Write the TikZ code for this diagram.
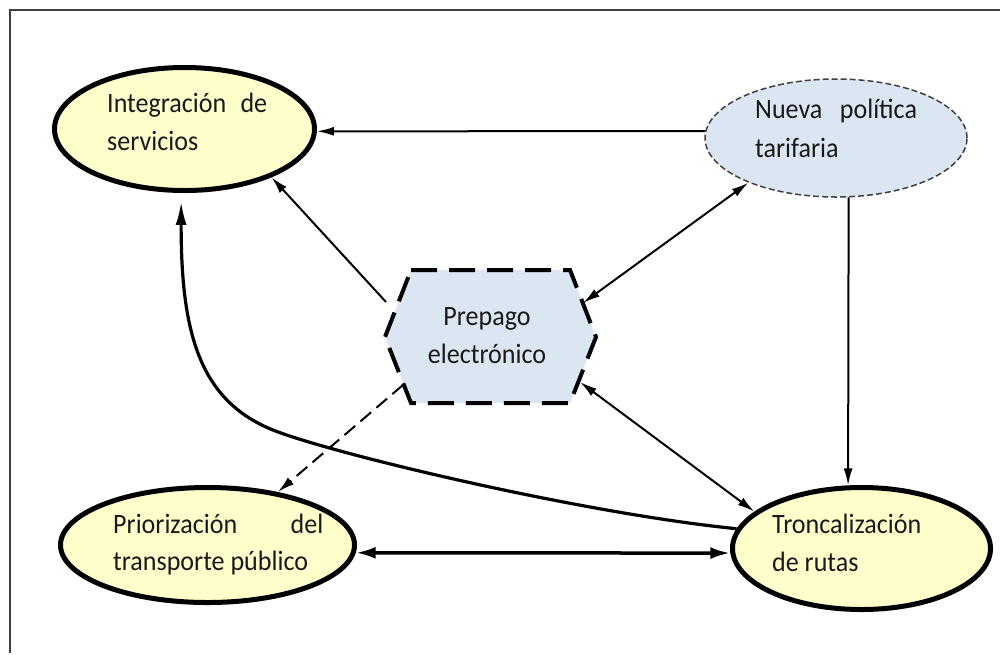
\documentclass[tikz,border=0pt]{standalone}
\usepackage{fontspec}
\setmainfont{Carlito}
\usetikzlibrary{shapes.geometric,arrows.meta}
\definecolor{ylw}{HTML}{FFFFCC}
\definecolor{blu}{HTML}{DCE6F2}
\newcommand{\sqz}[1]{\scalebox{0.93}[1]{#1}}
\begin{document}
\begin{tikzpicture}[x=1pt,y=-1pt,
  yell/.style={ellipse,draw=black,line width=5pt,fill=ylw,inner sep=0pt},
  bluell/.style={ellipse,draw=black!75,line width=1.5pt,dash pattern=on 6pt off 3pt,fill=blu,inner sep=0pt},
  txt/.style={font=\fontsize{28}{39}\selectfont,inner sep=0pt,anchor=base west,text=black!90},
  ctxt/.style={txt,anchor=base},
  thinarr/.style={line width=2pt,-{Latex[length=17pt,width=9pt]}},
  thinbi/.style={line width=2pt,{Latex[length=17pt,width=9pt]}-{Latex[length=17pt,width=9pt]}},
  dasharr/.style={line width=2pt,dash pattern=on 14pt off 7pt,-{Latex[length=17pt,width=9pt]}},
  thickbi/.style={line width=3.5pt,{Latex[length=20pt,width=12pt]}-{Latex[length=20pt,width=12pt]}},
  curvearr/.style={line width=3.2pt,-{Latex[length=24pt,width=11pt]}},
  hexline/.style={line width=4pt,dash pattern=on 26pt off 12pt,fill=blu},
  frameline/.style={line width=1.2pt,draw=black!75}
]
\useasboundingbox (0,0) rectangle (1000,654);
\fill[white] (0,0) rectangle (1000,654);
% frame
\coordinate (fa) at (10,653);
\coordinate (fb) at (10,10);
\coordinate (fc) at (1000,10);
\draw[frameline] (fa) -- (fb) -- (fc);

% ellipses
\node[yell,minimum width=260pt,minimum height=123pt] (integ) at (184.5,129) {};
\node[bluell,minimum width=262pt,minimum height=118pt] (nueva) at (836,138) {};
\node[yell,minimum width=294pt,minimum height=115pt] (prior) at (207.5,545) {};
\node[yell,minimum width=258pt,minimum height=122pt] (tronc) at (861.5,548.5) {};

% hexagon
\coordinate (h1) at (411,270);
\coordinate (h2) at (570,270);
\coordinate (h3) at (596,337);
\coordinate (h4) at (570,403);
\coordinate (h5) at (411,403);
\coordinate (h6) at (385,337);
\draw[hexline] (h1) -- (h2) -- (h3) -- (h4) -- (h5) -- (h6) -- cycle;

% texts
\node[txt] (integT1) at (107,112) {\sqz{\makebox[172pt][s]{Integración de}}};
\node[txt] (integT2) at (107,150) {\sqz{servicios}};
\node[txt] (nuevaT1) at (755,118) {\sqz{\makebox[174pt][s]{Nueva política}}};
\node[txt] (nuevaT2) at (755,157) {\sqz{tarifaria}};
\node[ctxt] (prepT1) at (487,325) {\sqz{Prepago}};
\node[ctxt] (prepT2) at (487,363) {\sqz{electrónico}};
\node[txt] (priorT1) at (113,533) {\sqz{\makebox[226pt][s]{Priorización del}}};
\node[txt] (priorT2) at (113,570) {\sqz{transporte público}};
\node[txt] (troncT1) at (772,533) {\sqz{Troncalización}};
\node[txt] (troncT2) at (772,571) {\sqz{de rutas}};

% connector endpoints on the hexagon
\coordinate (pInt) at (386,302);
\coordinate (pNue) at (583,303);
\coordinate (pTro) at (580,382);
\coordinate (pPri) at (403,385);
% bend point of the long curve
\coordinate (bend) at (273,430);

% connectors
\draw[thinarr] (nueva.177.8) -- (integ.-1.8);
\draw[thinarr] (pInt) -- (integ.-29);
\draw[thinbi] (nueva.207) -- (pNue);
\draw[thinarr] (nueva.-78.5) -- (tronc.102);
\draw[thinbi] (pTro) -- (tronc.161);
\draw[dasharr] (pPri) -- (prior.37);
\draw[curvearr,shorten >=8pt] (tronc.171) .. controls (580,513) and (330,453) .. (bend)
   .. controls (198,400) and (181,330) .. (integ.-93.5);
\draw[thickbi] (prior.-3) -- (tronc.182);
\end{tikzpicture}
\end{document}
